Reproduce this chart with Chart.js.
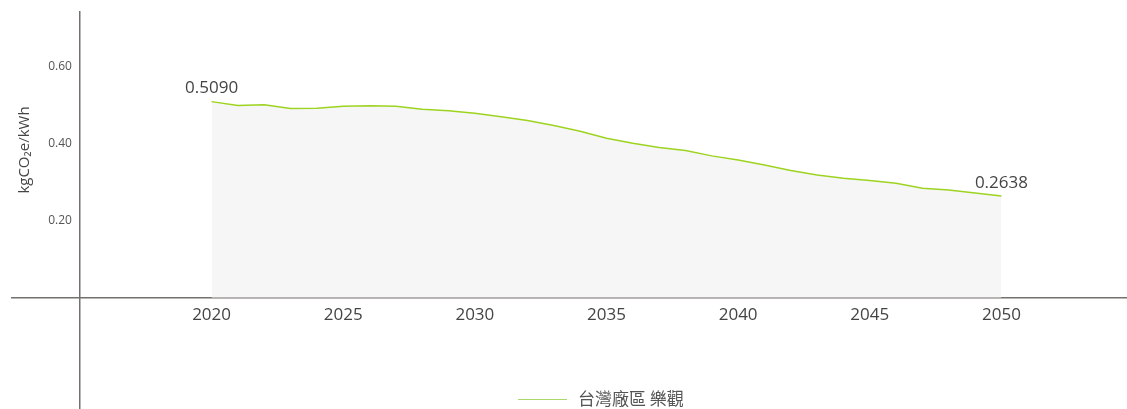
<!DOCTYPE html>
<html>
<head>
<meta charset="utf-8">
<script src="https://cdn.jsdelivr.net/npm/chart.js@4.4.0/dist/chart.umd.min.js"></script>
<style>
html,body{margin:0;padding:0;background:#fff;overflow:hidden;}
canvas{display:block;}
</style>
</head>
<body>
<canvas id="c" width="1127" height="409" style="width:1127px;height:409px;"></canvas>
<script>
const years = [2020,2021,2022,2023,2024,2025,2026,2027,2028,2029,2030,2031,2032,2033,2034,2035,2036,2037,2038,2039,2040,2041,2042,2043,2044,2045,2046,2047,2048,2049,2050];
const values = [0.5090,0.4990,0.5010,0.4910,0.4920,0.4970,0.4980,0.4970,0.4890,0.4850,0.4790,0.4700,0.4600,0.4470,0.4320,0.4140,0.4010,0.3900,0.3820,0.3680,0.3570,0.3445,0.3300,0.3180,0.3100,0.3040,0.2970,0.2840,0.2795,0.2717,0.2638];
const xTicks = [2020,2025,2030,2035,2040,2045,2050];
const yTicks = [0.20,0.40,0.60];
const seriesName = '台灣廠區 樂觀';
const yTitle = 'kgCO₂e/kWh';

const FONT = "'Open Sans','Noto Sans','Noto Sans CJK TC',sans-serif";
const CJKFONT = "'Noto Sans CJK TC','Open Sans',sans-serif";
const axisColor = '#75706c';
const lineColor = '#9dd420';

const noPad = s => { s.paddingTop = 0; s.paddingBottom = 0; s.paddingLeft = 0; s.paddingRight = 0; };

const extras = {
  id: 'extras',
  afterDraw(chart) {
    const ctx = chart.ctx;
    const xs = chart.scales.x, ys = chart.scales.y;
    ctx.save();
    // y tick labels, placed through the y scale
    ctx.fillStyle = '#555';
    ctx.font = "12px " + FONT;
    ctx.textAlign = 'right';
    ctx.textBaseline = 'middle';
    const axisX = xs.getPixelForValue(2015);
    yTicks.forEach(v => ctx.fillText(v.toFixed(2), axisX - 8, ys.getPixelForValue(v)));
    // data labels
    ctx.fillStyle = '#444';
    ctx.font = "17px " + FONT;
    ctx.textAlign = 'center';
    const iFirst = 0, iLast = values.length - 1;
    ctx.fillText(values[iFirst].toFixed(4), xs.getPixelForValue(years[iFirst]), ys.getPixelForValue(values[iFirst]) - 13);
    ctx.fillText(values[iLast].toFixed(4), xs.getPixelForValue(years[iLast]), ys.getPixelForValue(values[iLast]) - 13);
    // y title
    ctx.save();
    ctx.translate(25, 150);
    ctx.rotate(-Math.PI / 2);
    ctx.font = "15px " + FONT;
    ctx.fillStyle = '#444';
    ctx.fillText(yTitle, 0, 0);
    ctx.restore();
    // legend
    ctx.strokeStyle = '#a8d96a';
    ctx.lineWidth = 1;
    ctx.beginPath();
    ctx.moveTo(518, 399.5);
    ctx.lineTo(567, 399.5);
    ctx.stroke();
    ctx.font = "17px " + CJKFONT;
    ctx.fillStyle = '#555';
    ctx.textAlign = 'left';
    ctx.fillText(seriesName, 578, 399);
    ctx.restore();
  }
};

new Chart(document.getElementById('c'), {
  type: 'line',
  data: {
    datasets: [{
      label: seriesName,
      data: years.map((y, i) => ({x: y, y: values[i]})),
      borderColor: lineColor,
      borderWidth: 1.5,
      backgroundColor: '#f6f6f6',
      fill: 'origin',
      pointRadius: 0,
      tension: 0
    }]
  },
  options: {
    responsive: false,
    maintainAspectRatio: false,
    devicePixelRatio: 1,
    animation: false,
    layout: {padding: {left: 12, top: 12, right: 0, bottom: 0}},
    plugins: {legend: {display: false}, tooltip: {enabled: false}},
    scales: {
      x: {
        type: 'linear',
        position: {y: 0},
        min: 2012.42,
        max: 2054.77,
        afterBuildTicks: s => { s.ticks = xTicks.map(v => ({value: v})); },
        afterFit: noPad,
        grid: {display: false, drawTicks: false},
        border: {display: true, color: axisColor, width: 1.5},
        ticks: {
          callback: v => String(v),
          color: '#444',
          font: {size: 17, family: FONT},
          padding: 8,
          maxRotation: 0
        }
      },
      y: {
        type: 'linear',
        position: {x: 2015},
        min: -0.29,
        max: 0.742,
        afterBuildTicks: s => { s.ticks = yTicks.map(v => ({value: v})); },
        afterFit: noPad,
        grid: {display: false, drawTicks: false},
        border: {display: true, color: axisColor, width: 1.5},
        ticks: {display: false}
      }
    }
  },
  plugins: [extras]
});
</script>
</body>
</html>
